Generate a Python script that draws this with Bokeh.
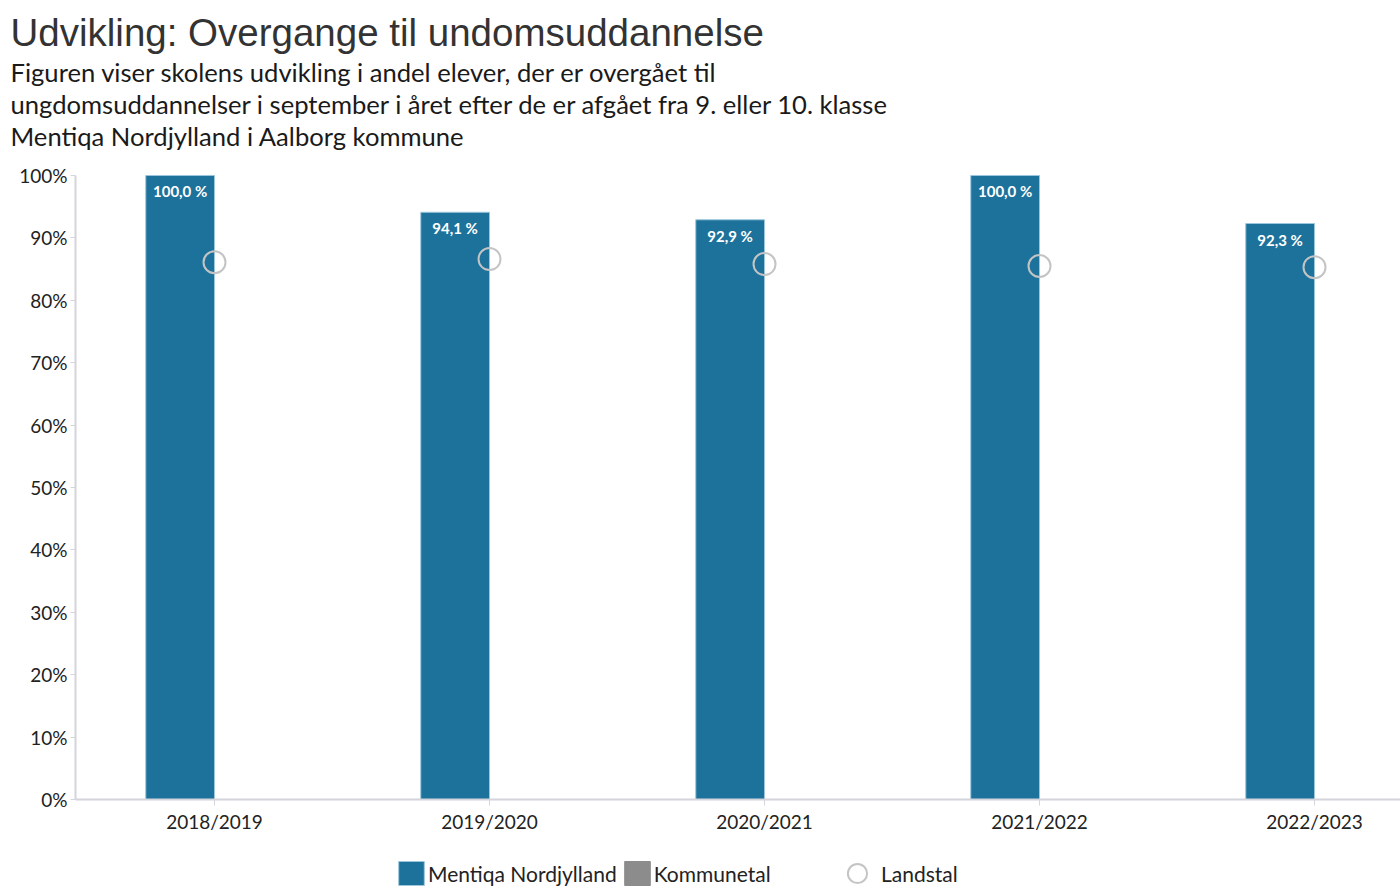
from bokeh.plotting import figure
from bokeh.layouts import column
from bokeh.models import ColumnDataSource, Range1d, FixedTicker, Title, Legend, LegendItem
from bokeh.transform import dodge
from bokeh.core.properties import value
from bokeh.embed import file_html
from bokeh.resources import INLINE

nan = float("nan")
categories = ["2018/2019", "2019/2020", "2020/2021", "2021/2022", "2022/2023"]
school = [100.0, 94.1, 92.9, 100.0, 92.3]
landstal = [86.1, 86.6, 85.8, 85.5, 85.3]
kommunetal = [nan, nan, nan, nan, nan]
y_ticks = [0, 10, 20, 30, 40, 50, 60, 70, 80, 90, 100]

title_text = "Udvikling: Overgange til undomsuddannelse"
subtitle_lines = [
    "Figuren viser skolens udvikling i andel elever, der er overgået til",
    "ungdomsuddannelser i september i året efter de er afgået fra 9. eller 10. klasse",
    "Mentiqa Nordjylland i Aalborg kommune",
]
series_names = ["Mentiqa Nordjylland", "Kommunetal", "Landstal"]

xs = list(range(len(categories)))
labels = [f"{v:.1f} %".replace(".", ",") for v in school]
src = ColumnDataSource(dict(x=xs, school=school, landstal=landstal,
                            kommunetal=kommunetal, label=labels))

BAR = "#1d729c"
GREY = "#8c8c8c"
RING = "#c4c4c4"
FONT = "Lato"

p = figure(width=1400, height=839, output_backend="svg", toolbar_location=None,
           x_range=Range1d(-0.5055, 4.3127), y_range=Range1d(0, 104.0),
           min_border_left=75, min_border_right=0, min_border_top=150, min_border_bottom=40)
p.outline_line_color = None
p.xgrid.visible = False
p.ygrid.visible = False

# titles (added bottom-up)
for line in reversed(subtitle_lines):
    p.add_layout(Title(text=line, text_font=FONT, text_font_size="25.6px", text_font_style="normal",
                       text_color="#1a1a1a", align="left", offset=-65, standoff=0), "above")
p.add_layout(Title(text=title_text, text_font="Liberation Sans", text_font_size="38.5px",
                   text_font_style="normal", text_color="#333333", align="left", offset=-65,
                   standoff=2), "above")

p.vbar(x=dodge("x", -0.125), top="school", width=0.25, bottom=0, source=src,
       fill_color=BAR, line_color="#9cc6dc", line_width=1)
p.vbar(x=dodge("x", 0.125), top="kommunetal", width=0.25, bottom=0, source=src,
       fill_color=GREY, line_color=GREY)
p.scatter(x="x", y="landstal", size=22, marker="circle", fill_color=None,
          line_color=RING, line_width=2, source=src)
p.text(x=dodge("x", -0.125), y="school", text="label", source=src, text_align="center",
       text_baseline="top", y_offset=7, text_color="white", text_font=value(FONT),
       text_font_size="15px", text_font_style="bold")

p.xaxis.ticker = FixedTicker(ticks=xs)
p.xaxis.major_label_overrides = {i: c for i, c in enumerate(categories)}
p.xaxis.major_label_text_font = FONT
p.xaxis.major_label_text_font_size = "19px"
p.xaxis.major_label_text_color = "#222222"
p.xaxis.axis_line_color = "#d4d4dc"
p.xaxis.axis_line_width = 2
p.xaxis.major_tick_line_color = "#d4d4dc"
p.xaxis.major_tick_out = 6
p.xaxis.major_tick_in = 0
p.xaxis.minor_tick_line_color = None
p.xaxis.major_label_standoff = 4

p.yaxis.ticker = FixedTicker(ticks=y_ticks)
p.yaxis.bounds = (0, 100)
p.yaxis.major_label_overrides = {v: f"{v}%" for v in y_ticks}
p.yaxis.major_label_text_font = FONT
p.yaxis.major_label_text_font_size = "19px"
p.yaxis.major_label_text_color = "#222222"
p.yaxis.axis_line_color = "#d4d4dc"
p.yaxis.axis_line_width = 2
p.yaxis.major_tick_line_color = "#d4d4dc"
p.yaxis.major_tick_out = 5
p.yaxis.major_tick_in = 0
p.yaxis.minor_tick_line_color = None
p.yaxis.major_label_standoff = 3

# legend strip (its frame is aligned with the chart's frame by the column layout)
lf = figure(width=1400, height=57, output_backend="svg", toolbar_location=None,
            x_range=Range1d(0, 1), y_range=Range1d(0, 1), x_axis_location=None,
            y_axis_location=None, min_border=0, min_border_left=0, min_border_right=0,
            min_border_top=0, min_border_bottom=0)
lf.outline_line_color = None
lf.xgrid.visible = False
lf.ygrid.visible = False
lsrc = ColumnDataSource(dict(x=kommunetal, y=kommunetal))
r1 = lf.vbar(x="x", top="y", width=0.1, source=lsrc, fill_color=BAR, line_color="#9cc6dc")
r2 = lf.vbar(x="x", top="y", width=0.1, source=lsrc, fill_color=GREY, line_color=GREY)
r3 = lf.scatter(x="x", y="y", size=22, marker="circle", fill_color=None, line_color=RING,
                line_width=2, source=lsrc)

common = dict(orientation="horizontal", label_text_font=FONT, label_text_font_size="21px",
              label_text_color="#222222", border_line_color=None, background_fill_alpha=0,
              padding=0, margin=0)
legend1 = Legend(items=[LegendItem(label=series_names[0], renderers=[r1]),
                        LegendItem(label=series_names[1], renderers=[r2])],
                 location=(320, 8), spacing=4, glyph_width=32, glyph_height=30,
                 label_standoff=1, **common)
legend2 = Legend(items=[LegendItem(label=series_names[2], renderers=[r3])],
                 location=(758, -2), glyph_width=48, glyph_height=50,
                 label_standoff=0, **common)
lf.add_layout(legend1, "center")
lf.add_layout(legend2, "center")

layout = column(p, lf, spacing=0)
open("out.html", "w").write(file_html(layout, INLINE))
